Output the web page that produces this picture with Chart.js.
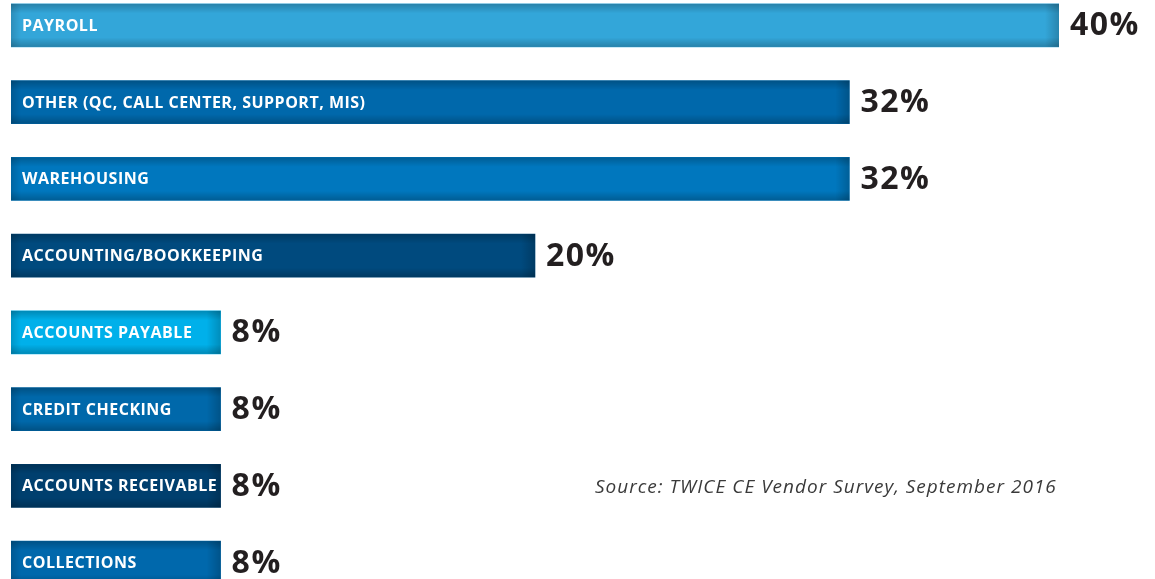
<!DOCTYPE html>
<html>
<head>
<meta charset="utf-8">
<script src="https://cdn.jsdelivr.net/npm/chart.js@4.4.0/dist/chart.umd.min.js"></script>
<style>
  html, body { margin: 0; padding: 0; background: #ffffff; overflow: hidden; }
  #wrap { position: absolute; left: 0; top: -13px; width: 1155px; height: 616px; }
</style>
</head>
<body>
<div id="wrap"><canvas id="chart"></canvas></div>
<script>
const categories = [
  'PAYROLL',
  'OTHER (QC, CALL CENTER, SUPPORT, MIS)',
  'WAREHOUSING',
  'ACCOUNTING/BOOKKEEPING',
  'ACCOUNTS PAYABLE',
  'CREDIT CHECKING',
  'ACCOUNTS RECEIVABLE',
  'COLLECTIONS'
];
const percents = [40, 32, 32, 20, 8, 8, 8, 8];
const barColors = ['#33a6d9', '#0068ab', '#0077be', '#004a7e', '#00b0ea', '#0068aa', '#003f6e', '#0068ac'];
const sourceNote = 'Source: TWICE CE Vendor Survey, September 2016';

// labels inside the bars, values after them, plus the soft inner shading
const barDecor = {
  id: 'barDecor',
  afterDatasetsDraw(chart) {
    const ctx = chart.ctx;
    const meta = chart.getDatasetMeta(0);
    meta.data.forEach((bar, i) => {
      const left = bar.base;
      const right = bar.x;
      const top = bar.y - bar.height / 2;
      const bottom = bar.y + bar.height / 2;
      const h = bottom - top;

      ctx.save();
      let g = ctx.createLinearGradient(0, top, 0, bottom);
      g.addColorStop(0, 'rgba(0,0,0,0.22)');
      g.addColorStop(0.22, 'rgba(0,0,0,0)');
      g.addColorStop(0.78, 'rgba(0,0,0,0)');
      g.addColorStop(1, 'rgba(0,0,0,0.22)');
      ctx.fillStyle = g;
      ctx.fillRect(left, top, right - left, h);

      g = ctx.createLinearGradient(right - 14, 0, right, 0);
      g.addColorStop(0, 'rgba(0,0,0,0)');
      g.addColorStop(1, 'rgba(0,0,0,0.2)');
      ctx.fillStyle = g;
      ctx.fillRect(right - 14, top, 14, h);

      g = ctx.createLinearGradient(left, 0, left + 10, 0);
      g.addColorStop(0, 'rgba(0,0,0,0.15)');
      g.addColorStop(1, 'rgba(0,0,0,0)');
      ctx.fillStyle = g;
      ctx.fillRect(left, top, 10, h);

      ctx.fillStyle = '#ffffff';
      ctx.font = 'bold 16px "Open Sans"';
      ctx.letterSpacing = '0.5px';
      ctx.textBaseline = 'middle';
      ctx.textAlign = 'left';
      ctx.fillText(categories[i], left + 11, bar.y + 1);

      ctx.fillStyle = '#231f20';
      ctx.font = 'bold 32px "Open Sans"';
      ctx.letterSpacing = '1.5px';
      ctx.fillText(percents[i] + '%', right + 11, bar.y + 1);
      ctx.restore();
    });

    ctx.save();
    ctx.fillStyle = '#3a3a3a';
    ctx.font = 'italic 19px "Open Sans"';
    ctx.letterSpacing = '1px';
    ctx.textBaseline = 'middle';
    ctx.textAlign = 'left';
    ctx.fillText(sourceNote, 595, meta.data[6].y + 2);
    ctx.restore();
  }
};

new Chart(document.getElementById('chart').getContext('2d'), {
  type: 'bar',
  data: {
    labels: categories,
    datasets: [{
      data: percents,
      backgroundColor: barColors,
      borderWidth: 0,
      barThickness: 43
    }]
  },
  options: {
    indexAxis: 'y',
    responsive: true,
    maintainAspectRatio: false,
    animation: false,
    layout: { padding: { left: 11, right: 96, top: 0, bottom: 2 } },
    plugins: {
      legend: { display: false },
      tooltip: { enabled: false }
    },
    scales: {
      x: { min: 0, max: 40, display: false, grid: { display: false } },
      y: { display: false, grid: { display: false } }
    }
  },
  plugins: [barDecor]
});
</script>
</body>
</html>
